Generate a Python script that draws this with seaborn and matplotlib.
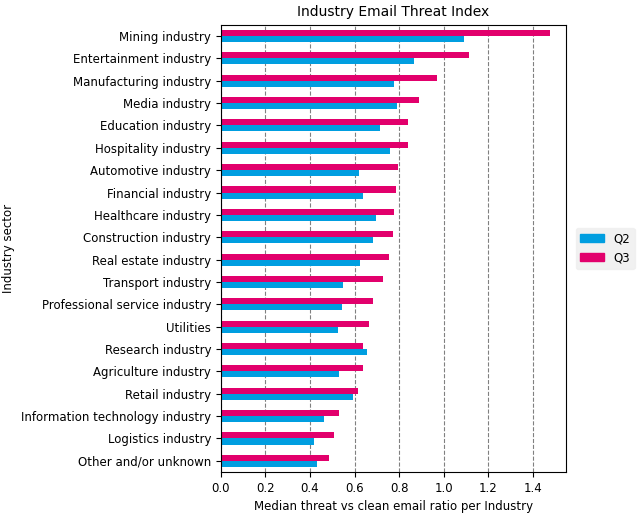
import numpy as np
import pandas as pd
import matplotlib
matplotlib.use("Agg")
import matplotlib.pyplot as plt
import seaborn as sns
from matplotlib.patches import Patch

industries = ['Mining industry', 'Entertainment industry', 'Manufacturing industry',
              'Media industry', 'Education industry', 'Hospitality industry',
              'Automotive industry', 'Financial industry', 'Healthcare industry',
              'Construction industry', 'Real estate industry', 'Transport industry',
              'Professional service industry', 'Utilities', 'Research industry',
              'Agriculture industry', 'Retail industry', 'Information technology industry',
              'Logistics industry', 'Other and/or unknown']
q2 = [1.09, 0.868, 0.778, 0.789, 0.715, 0.760, 0.621, 0.640, 0.696, 0.685,
      0.625, 0.550, 0.543, 0.525, 0.655, 0.529, 0.595, 0.462, 0.417, 0.432]
q3 = [1.478, 1.114, 0.971, 0.889, 0.841, 0.841, 0.793, 0.786, 0.775, 0.772,
      0.756, 0.726, 0.681, 0.667, 0.640, 0.640, 0.615, 0.529, 0.510, 0.487]

colors = {'Q2': '#009ee0', 'Q3': '#e2006c'}

df = pd.DataFrame({'Industry': industries * 2,
                   'Quarter': ['Q2'] * len(q2) + ['Q3'] * len(q3),
                   'Value': q2 + q3})

sns.set_style("ticks")
plt.rcParams['font.family'] = ['DejaVu Sans']
plt.rcParams['text.color'] = 'black'
plt.rcParams['axes.labelcolor'] = 'black'
plt.rcParams['xtick.color'] = 'black'
plt.rcParams['ytick.color'] = 'black'

fig = plt.figure(figsize=(6.42, 5.17), dpi=100)
ax = fig.add_axes([0.344, 0.087, 0.538, 0.865])

sns.barplot(data=df, y='Industry', x='Value', hue='Quarter', hue_order=['Q3', 'Q2'],
            palette=colors, orient='h', width=0.54, saturation=1, linewidth=0,
            ax=ax, legend=False)

ax.set_xlim(0, 1.55)
ax.set_xticks(np.arange(0, 1.41, 0.2))
ax.xaxis.grid(True, linestyle='--', color='gray', linewidth=0.8)
ax.set_axisbelow(True)
for s in ax.spines.values():
    s.set_visible(True)
    s.set_color('black')
ax.tick_params(labelsize=8.5)
ax.set_xlabel('Median threat vs clean email ratio per Industry', fontsize=8.5)
ax.set_ylabel('Industry sector', fontsize=8.5)
ax.set_title('Industry Email Threat Index', fontsize=10)

handles = [Patch(color=colors['Q2'], label='Q2'), Patch(color=colors['Q3'], label='Q3')]
leg = ax.legend(handles=handles, loc='center left', bbox_to_anchor=(1.01, 0.5),
                fontsize=8.5, frameon=True, facecolor='#eeeeee', edgecolor='#eeeeee')

fig.savefig('out.png', dpi=100)
